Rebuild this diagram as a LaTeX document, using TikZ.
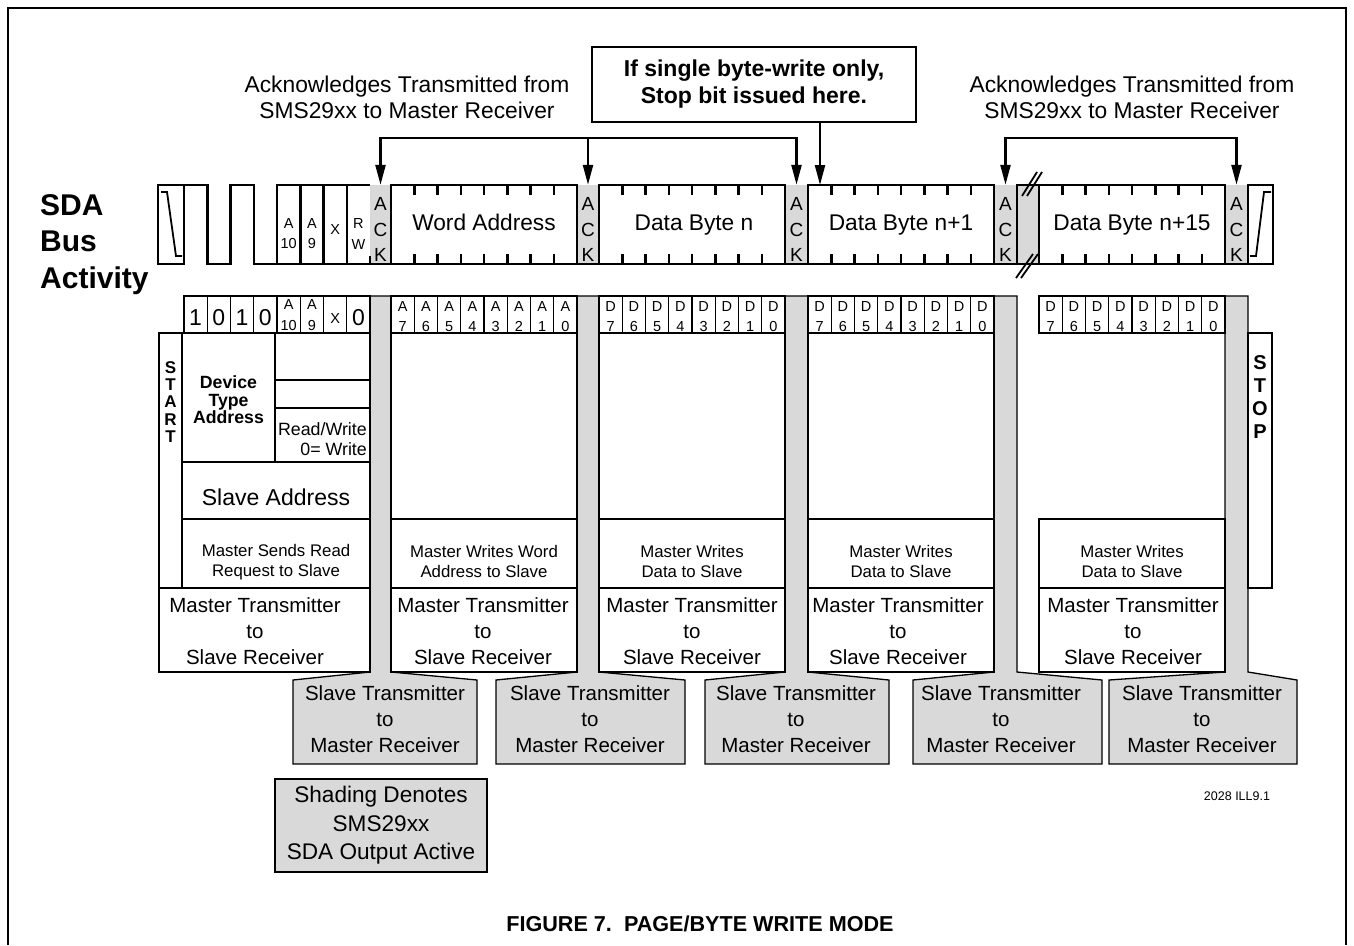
\documentclass[tikz,border=0pt]{standalone}
\usepackage{fontspec}
\setmainfont{Liberation Sans}
\usepackage{xcolor}
\usepackage{tikz}
\usetikzlibrary{arrows.meta}

\definecolor{shadegray}{HTML}{D9D9D9}
\newcommand{\fsz}[2]{\fontsize{#1}{#2}\selectfont}

\begin{document}
\begin{tikzpicture}[
x=1pt, y=-1pt,
wire/.style={line width=2.5pt},
cell/.style={draw=black, line width=1.3pt},
shaded/.style={fill=shadegray, draw=black, line width=1.3pt},
ackbit/.style={fill=shadegray, minimum width=22pt, minimum height=79pt, inner sep=0pt},
acktxt/.style={font=\fsz{19}{25.5}, align=center, inner sep=0pt},
bytetxt/.style={font=\fsz{22.7}{27}, anchor=base, inner sep=0pt},
bit/.style={font=\fsz{14.5}{20.5}, align=center, inner sep=0pt},
bigbit/.style={font=\fsz{23}{27}, inner sep=0pt},
note/.style={font=\fsz{22.8}{26}, align=center, inner sep=0pt},
mt/.style={font=\fsz{20.5}{26}, align=center, inner sep=0pt},
small/.style={font=\fsz{16.8}{20}, align=center, inner sep=0pt},
arr/.style={-{Triangle[length=20pt,width=10pt]}, line width=2.3pt}
]
\useasboundingbox (0,0) rectangle (1354,945);

% Frame
\draw[line width=2pt] (8,945) -- (8,8) -- (1346,8) -- (1346,945);

% Bus label
\node[font=\bfseries\fsz{30}{36.5}, align=left, anchor=west, inner sep=0pt] (sda) at (40,244.5) {SDA\\Bus\\Activity};

% ACK slots on the bus
\node[ackbit] (ack1) at (380.5,224.5) {};
\node[ackbit] (ack2) at (588,224.5) {};
\node[ackbit] (ack3) at (796.5,224.5) {};
\node[ackbit] (ack4) at (1005.5,224.5) {};
\node[ackbit] (ack5) at (1236.5,224.5) {};
\foreach \a in {1,...,5}
  \node[acktxt] at ([yshift=-5pt]ack\a) {A\\C\\K};

% Start and stop
\draw[wire] (158,185) rectangle (184,264);
\draw[line width=1.8pt] (161,192) -- (167,192) -- (176,256) -- (182,256);
\draw[wire] (1248,185) rectangle (1273,264);
\draw[line width=1.8pt] (1250,256) -- (1256,256) -- (1264,192) -- (1271,192);

% Waveform
\draw[wire] (184,185) -- (207.25,185) -- (207.25,264) -- (230.5,264) -- (230.5,185)
  -- (253.75,185) -- (253.75,264) -- (1248,264);
\draw[wire] (277,264) -- (277,185) -- (370,185);
\draw[wire] (300.25,185) -- (300.25,264);
\draw[wire] (323.5,185) -- (323.5,264);
\draw[wire] (346.75,185) -- (346.75,264);
\draw[wire] (370,264) -- (370,256);
\node[bit] (a10) at (288.6,233.8) {A\\10};
\node[bit] (a9) at (311.9,233.8) {A\\9};
\node[bit] (xb) at (335.1,230) {X};
\node[bit] (rwb) at (358.4,233.8) {R\\W};

% Bytes
\draw[wire] (391,185) rectangle (577,264);
\draw[wire] (599,185) rectangle (785,264);
\draw[wire] (808,185) rectangle (994,264);
\draw[wire] (1039,185) rectangle (1225,264);
\draw[wire, fill=shadegray] (1017,185) rectangle (1039,264);
\foreach \s in {391,599,808,1039}
  \foreach \k in {1,...,7} {
    \draw[wire] (\s+\k*23.25,185) -- ++(0,10);
    \draw[wire] (\s+\k*23.25,264) -- ++(0,-10);
  }
\node[bytetxt] (wa) at (484,230) {Word Address};
\node[bytetxt] (dbn) at (694,230) {Data Byte n};
\node[bytetxt] (dbn1) at (901,230) {Data Byte n+1};
\node[bytetxt] (dbn15) at (1132,230) {Data Byte n+15};

% Break marks
\draw[line width=1.8pt] (1022,196) -- (1037,172) (1027,196) -- (1042,172);
\draw[line width=1.8pt] (1016,278) -- (1033,254) (1021,278) -- (1038,254);

% Slave output columns
\foreach \l/\r/\bl/\br in {370/391/293/477, 577/599/496/685, 785/808/705/889, 994/1017/913/1102, 1225/1248/1109/1297}
  \draw[shaded] (\l,296) -- (\r,296) -- (\r,672) -- (\br,680) -- (\br,764) -- (\bl,764) -- (\bl,680) -- (\l,672) -- cycle;
\node[mt] (st1) at (385,719) {Slave Transmitter\\to\\Master Receiver};
\node[mt] (st2) at (590,719) {Slave Transmitter\\to\\Master Receiver};
\node[mt] (st3) at (796,719) {Slave Transmitter\\to\\Master Receiver};
\node[mt] (st4) at (1001,719) {Slave Transmitter\\to\\Master Receiver};
\node[mt] (st5) at (1202,719) {Slave Transmitter\\to\\Master Receiver};

% Bit cells
\foreach \k in {0,...,7}
  \draw[cell] (184+\k*23.25,296) rectangle ++(23.25,37);
\foreach \b [count=\k from 0] in {1,0,1,0}
  \node[bigbit] at (195.6+\k*23.25,318) {\b};
\node[bit] (c10) at (288.6,315) {A\\10};
\node[bit] (c9) at (311.9,315) {A\\9};
\node[bit] (cx) at (335.1,318.5) {X};
\node[bigbit] (c0) at (358.4,318) {0};
\foreach \s/\l in {391/A,599/D,808/D,1039/D}
  \foreach \k in {0,...,7} {
    \draw[cell] (\s+\k*23.25,296) rectangle ++(23.25,37);
    \pgfmathtruncatemacro\n{7-\k}
    \node[bit] at (\s+\k*23.25+11.6,316.5) {\l\\\n};
  }

% Device address panel
\draw[cell] (159,333) rectangle (182,588);
\draw[cell] (182,333) rectangle (275,462);
\draw[cell] (275,333) rectangle (370,462);
\draw[cell] (275,380) -- (370,380);
\draw[cell] (275,408) -- (370,408);
\draw[cell] (182,462) rectangle (370,519);
\draw[cell] (182,519) rectangle (370,588);
\draw[cell] (159,588) rectangle (370,672);
\node[font=\bfseries\fsz{17}{17.2}, align=center, inner sep=0pt] (start) at (170.5,402) {S\\T\\A\\R\\T};
\node[font=\bfseries\fsz{17.7}{17.5}, align=center, inner sep=0pt] (dta) at (228.5,400) {Device\\Type\\Address};
\node[font=\fsz{17.8}{20}, align=right, anchor=east, inner sep=0pt] (rw) at (367,439) {Read/Write\\0= Write};
\node[font=\fsz{23}{27}, anchor=base, inner sep=0pt] (sa) at (276,505) {Slave Address};
\node[small] (msr) at (276,562) {Master Sends Read\\Request to Slave};
\node[mt] (mt1) at (255,631) {Master Transmitter\\to\\Slave Receiver};

% Data panels
\foreach \s in {391,599,808} {
  \draw[cell] (\s,333) rectangle ++(186,186);
  \draw[cell] (\s,519) rectangle ++(186,69);
  \draw[cell] (\s,588) rectangle ++(186,84);
}
\draw[cell] (1039,519) rectangle ++(186,69);
\draw[cell] (1039,588) rectangle ++(186,84);
\draw[cell] (1248,333) rectangle (1272,588);
\node[font=\bfseries\fsz{20}{22.8}, align=center, inner sep=0pt] (stop) at (1260,397) {S\\T\\O\\P};
\node[small] (mww) at (484,561) {Master Writes Word\\Address to Slave};
\node[small] (mwd1) at (692,561) {Master Writes\\Data to Slave};
\node[small] (mwd2) at (901,561) {Master Writes\\Data to Slave};
\node[small] (mwd3) at (1132,561) {Master Writes\\Data to Slave};
\node[mt] (mt2) at (483,631) {Master Transmitter\\to\\Slave Receiver};
\node[mt] (mt3) at (692,631) {Master Transmitter\\to\\Slave Receiver};
\node[mt] (mt4) at (898,631) {Master Transmitter\\to\\Slave Receiver};
\node[mt] (mt5) at (1133,631) {Master Transmitter\\to\\Slave Receiver};

% Acknowledge notes
\node[note] (ackl) at (407,97) {Acknowledges Transmitted from\\SMS29xx to Master Receiver};
\node[note] (ackr) at (1132,97) {Acknowledges Transmitted from\\SMS29xx to Master Receiver};
\node[draw, line width=2.5pt, font=\bfseries\fsz{23}{27}, align=center, minimum width=324pt, minimum height=75pt] (callout) at (754,84.5) {If single byte-write only,\\Stop bit issued here.};
\coordinate (brl) at (588,138);
\coordinate (brr) at (1120,138);
\coordinate (stopin) at (820,185);
\draw[arr] (brl) -| (ack1.north);
\draw[arr] (brl) -- (ack2.north);
\draw[arr] (brl) -| (ack3.north);
\draw[arr] (brr) -| (ack4.north);
\draw[arr] (brr) -| (ack5.north);
\draw[arr] (callout.south -| stopin) -- (stopin);

% Legend and caption
\node[draw, fill=shadegray, line width=1.3pt, minimum width=212pt, minimum height=93pt, font=\fsz{22.6}{28.5}, align=center, inner sep=0pt] (legend) at (381,825.5) {Shading Denotes\\SMS29xx\\SDA Output Active};
\node[font=\fsz{12.5}{15}, inner sep=0pt] (ill) at (1237,796) {2028 ILL9.1};
\node[font=\bfseries\fsz{21.6}{26}, inner sep=0pt] (caption) at (700,924) {FIGURE 7.\ \ PAGE/BYTE WRITE MODE};

\end{tikzpicture}
\end{document}
